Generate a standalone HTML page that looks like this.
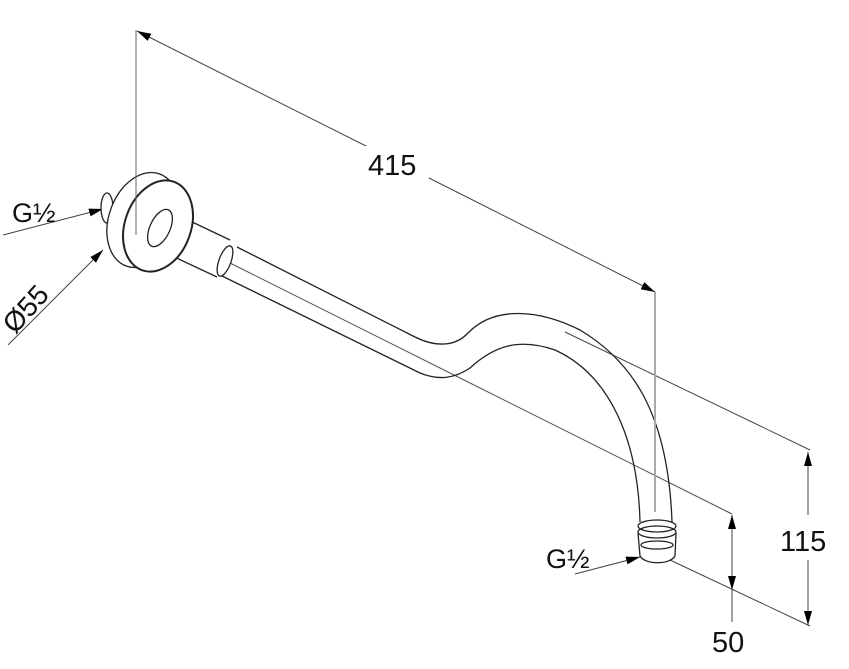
<!DOCTYPE html>
<html><head><style>html,body{margin:0;padding:0;background:#fff}svg{display:block}</style></head>
<body>
<svg width="849" height="669" viewBox="0 0 849 669" xmlns="http://www.w3.org/2000/svg" font-family="Liberation Sans, sans-serif">
<defs>
<marker id="a" markerWidth="14" markerHeight="8" refX="14" refY="4" orient="auto" markerUnits="userSpaceOnUse">
<path d="M0,0 L14,4 L0,8 Z" fill="#000"/></marker>
</defs>
<g fill="none" stroke="#444" stroke-width="1">
<line x1="368" y1="147" x2="137" y2="31" marker-end="url(#a)"/>
<line x1="425" y1="176" x2="655" y2="292" marker-end="url(#a)"/>
<line x1="565" y1="332" x2="810" y2="450"/>
<line x1="670" y1="560" x2="810" y2="626"/>
<line x1="808" y1="515" x2="808" y2="452" marker-end="url(#a)"/>
<line x1="808" y1="560" x2="808" y2="625" marker-end="url(#a)"/>
<line x1="220" y1="258" x2="732" y2="514"/>
<line x1="732" y1="560" x2="732" y2="515" marker-end="url(#a)"/>
<line x1="732" y1="560" x2="732" y2="590" marker-end="url(#a)"/>
<line x1="732" y1="590" x2="732" y2="622"/>
<line x1="3" y1="235" x2="103" y2="209" marker-end="url(#a)"/>
<line x1="8" y1="345" x2="103" y2="250" marker-end="url(#a)"/>
<line x1="575" y1="574" x2="640" y2="557" marker-end="url(#a)"/>
</g>
<g fill="none" stroke="#222" stroke-width="1.3">
<path d="M237,247 L415,337 C435,347 455,347 468,333 C495,305 540,310 580,330 C630,360 668,410 672,522"/>
<path d="M220,275 L420,373 C440,381 455,378 470,368 C495,345 520,338 555,350 C610,375 638,440 640,522"/>
<path d="M167,210 L230,240"/>
<path d="M153,247 L217,277"/>
<ellipse cx="225" cy="261" rx="6" ry="16" transform="rotate(20 225 261)" fill="#fff"/>
<ellipse cx="107" cy="208" rx="6" ry="15" fill="#fff"/>
<ellipse cx="143" cy="220" rx="34" ry="49" transform="rotate(20 143 220)" fill="#fff"/>
<ellipse cx="158" cy="226" rx="33" ry="47" transform="rotate(20 158 226)" fill="#fff" stroke-width="2"/>
<ellipse cx="160" cy="228" rx="10" ry="20" transform="rotate(25 160 228)" fill="#fff"/>
<ellipse cx="657" cy="526" rx="19" ry="6" fill="#fff"/>
<ellipse cx="657" cy="532" rx="19" ry="6"/>
<path d="M638,533 L640,556 C645,565 670,565 675,556 L676,533"/>
<ellipse cx="657" cy="545" rx="16" ry="4"/>
</g>
<line x1="136" y1="30" x2="136" y2="235" stroke="#666" stroke-width="1"/>
<line x1="655" y1="292" x2="655" y2="512" stroke="#aaa" stroke-width="2"/>
<g fill="#111" font-size="29">
<rect x="365" y="146" width="64" height="32" fill="#fff"/>
<text x="368" y="175">415</text>
<rect x="778" y="520" width="60" height="36" fill="#fff"/>
<text x="780" y="551">115</text>
<text x="712" y="652">50</text>
<text x="12" y="222" font-size="27">G½</text>
<text x="546" y="568" font-size="27">G½</text>
<text x="0" y="0" transform="translate(15,335) rotate(-48)" font-size="28">Ø55</text>
</g>
</svg>
</body></html>
